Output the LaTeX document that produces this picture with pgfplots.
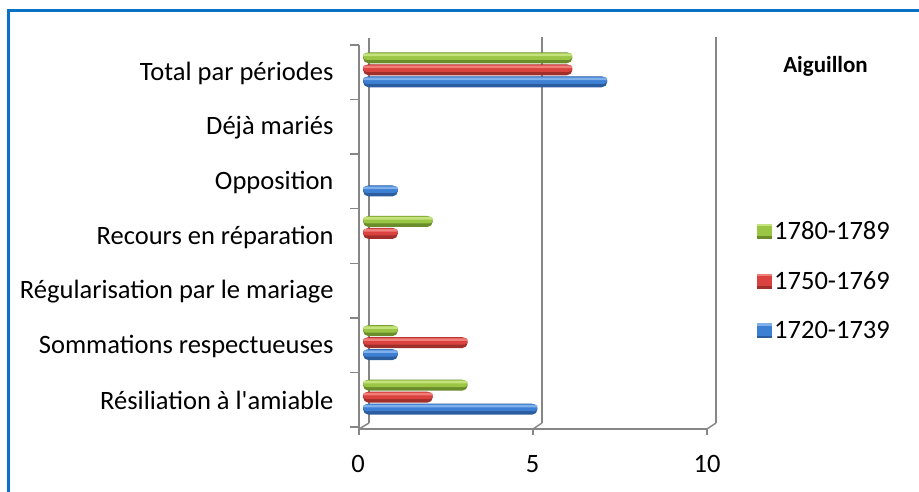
\documentclass[border=0pt]{standalone}
\usepackage{fontspec}
\setmainfont{Carlito}
\usepackage{pgfplots}
\pgfplotsset{compat=1.18}
\definecolor{frameblue}{HTML}{0A72C4}
\definecolor{gridgray}{HTML}{868686}
\definecolor{bT}{HTML}{7FB0EA}\definecolor{bM}{HTML}{3D7FD3}\definecolor{bB}{HTML}{2A5C9E}
\definecolor{rT}{HTML}{F07F7A}\definecolor{rM}{HTML}{D9423E}\definecolor{rB}{HTML}{A02E2A}
\definecolor{gT}{HTML}{C4E27E}\definecolor{gM}{HTML}{9BC545}\definecolor{gB}{HTML}{6B8C2A}
\pgfplotstableread{
v c
5 0
1 1
0 2
0 3
1 4
0 5
7 6
}\blue
\pgfplotstableread{
v c
2 0
3 1
0 2
1 3
0 4
0 5
6 6
}\red
\pgfplotstableread{
v c
3 0
1 1
0 2
2 3
0 4
0 5
6 6
}\green
\begin{document}
\begin{tikzpicture}[x=1pt,y=1pt]
\useasboundingbox (0,0) rectangle (919,492);
% outer frame (top and left visible)
\draw[frameblue, line width=3pt] (8.5,0) -- (8.5,481.5) -- (919,481.5);
% 3D walls: back wall lines and gridlines
\begin{scope}[gridgray, line width=1.5pt]
\draw (369,454) -- (369,69);
\draw (542,455) -- (542,69);
\draw (716,455) -- (716,69);
% floor front edge
\draw (359,63) -- (707,63);
\draw (359,63) -- (369,69);
\draw (533,63) -- (542,69);
\draw (707,63) -- (716,69);
\draw (359,63) -- (359,57);
\draw (533,63) -- (533,57);
\draw (707,63) -- (707,57);
% front left axis with category ticks
\draw (359,447) -- (359,63);
\foreach \i in {0,...,7} \draw (350,{447-54.57*\i}) -- (359,{447-54.57*\i});
\end{scope}
\begin{axis}[
  at={(363pt,71pt)}, anchor=south west,
  scale only axis, width=349pt, height=382pt,
  xmin=0, xmax=10, ymin=-0.5, ymax=6.5,
  xtick={0,5,10},
  ytick={0,...,6},
  yticklabels={Résiliation à l\textquotesingle amiable,Sommations respectueuses,Régularisation par le mariage,Recours en réparation,Opposition,Déjà mariés,Total par périodes},
  major tick length=0pt,
  tick style={draw=none},
  axis line style={draw=none},
  /pgf/number format/assume math mode=true,
  tick label style={font=\fontsize{26.5}{30}\selectfont, text=black},
  yticklabel style={xshift=-26pt, yshift=-7pt},
  xticklabel style={xshift=-5pt, yshift=-31pt},
  xbar, bar width=11pt,
  restrict x to domain=0.01:100,
  legend style={at={(1.129,0.3665)}, anchor=west, draw=none, fill=none,
    font=\fontsize{26.5}{30}\selectfont, row sep=26.5pt, inner sep=0pt,
    /tikz/every even column/.append style={column sep=7pt}},
  reverse legend,
  clip=false,
]
% blue 1720-1739
\addplot[fill=bB, draw=none, bar shift=-15.5pt, rounded corners=5.5pt,
  legend image code/.code={\begin{scope}[sharp corners]\fill[bM] (0pt,-7.5pt) rectangle (15pt,7.5pt);\fill[bT] (0pt,5pt) rectangle (15pt,7.5pt);\fill[bB] (0pt,-7.5pt) rectangle (15pt,-5pt);\end{scope}}]
  table[x=v,y=c] {\blue};
\addplot[forget plot, fill=bM, draw=none, bar width=7pt, bar shift=-14pt, rounded corners=3.5pt] table[x=v,y=c] {\blue};
\addplot[forget plot, fill=bT, draw=none, bar width=2.5pt, bar shift=-12.5pt, rounded corners=1.2pt] table[x=v,y=c] {\blue};
% red 1750-1769
\addplot[fill=rB, draw=none, bar shift=-3.5pt, rounded corners=5.5pt,
  legend image code/.code={\begin{scope}[sharp corners]\fill[rM] (0pt,-7.5pt) rectangle (15pt,7.5pt);\fill[rT] (0pt,5pt) rectangle (15pt,7.5pt);\fill[rB] (0pt,-7.5pt) rectangle (15pt,-5pt);\end{scope}}]
  table[x=v,y=c] {\red};
\addplot[forget plot, fill=rM, draw=none, bar width=7pt, bar shift=-2pt, rounded corners=3.5pt] table[x=v,y=c] {\red};
\addplot[forget plot, fill=rT, draw=none, bar width=2.5pt, bar shift=-0.5pt, rounded corners=1.2pt] table[x=v,y=c] {\red};
% green 1780-1789
\addplot[fill=gB, draw=none, bar shift=8.5pt, rounded corners=5.5pt,
  legend image code/.code={\begin{scope}[sharp corners]\fill[gM] (0pt,-7.5pt) rectangle (15pt,7.5pt);\fill[gT] (0pt,5pt) rectangle (15pt,7.5pt);\fill[gB] (0pt,-7.5pt) rectangle (15pt,-5pt);\end{scope}}]
  table[x=v,y=c] {\green};
\addplot[forget plot, fill=gM, draw=none, bar width=7pt, bar shift=10pt, rounded corners=3.5pt] table[x=v,y=c] {\green};
\addplot[forget plot, fill=gT, draw=none, bar width=2.5pt, bar shift=11.5pt, rounded corners=1.2pt] table[x=v,y=c] {\green};
\legend{1720-1739,1750-1769,1780-1789}
\end{axis}
\node[font=\fontsize{23}{27}\selectfont\bfseries] at (825.5,426) {Aiguillon};
\end{tikzpicture}
\end{document}
